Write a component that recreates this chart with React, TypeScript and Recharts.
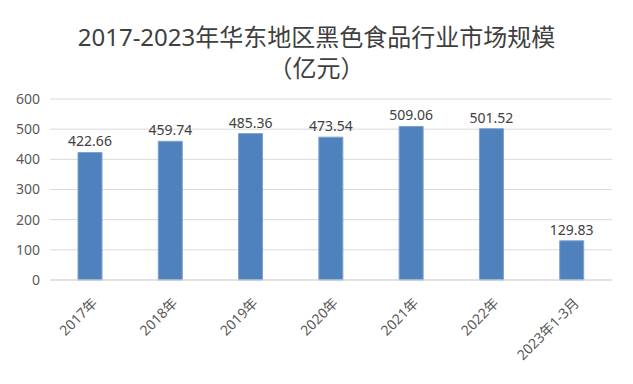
import React from 'react';
import { BarChart, Bar, XAxis, YAxis, CartesianGrid, LabelList } from 'recharts';

const categories = ['2017年', '2018年', '2019年', '2020年', '2021年', '2022年', '2023年1-3月'];
const marketSize = [422.66, 459.74, 485.36, 473.54, 509.06, 501.52, 129.83];
const yTicks = [0, 100, 200, 300, 400, 500, 600];

const data = categories.map((name, i) => ({ name, value: marketSize[i] }));

const FONT = '"Noto Sans", "Noto Sans CJK SC", sans-serif';

function RotatedTick(props: any) {
  const { x, y, payload } = props;
  return (
    <g transform={`translate(${x + 8},${y + 16})`}>
      <text
        textAnchor="end"
        transform="rotate(-45)"
        fill="#595959"
        fontSize={14}
        fontFamily={FONT}
      >
        {payload.value}
      </text>
    </g>
  );
}

export default function App() {
  return (
    <div style={{ margin: -8, width: 633, height: 384, position: 'relative', background: '#fff' }}>
      <div
        style={{
          position: 'absolute',
          left: 3,
          top: 3,
          width: 624,
          height: 375,
          border: '1px solid #d0d0d0',
          boxSizing: 'border-box',
        }}
      />
      <div
        style={{
          position: 'absolute',
          left: 0,
          top: 21,
          width: 633,
          textAlign: 'center',
          fontFamily: FONT,
          fontSize: 24,
          lineHeight: '31px',
          color: '#404040',
        }}
      >
        2017-2023年华东地区黑色食品行业市场规模
        <br />
        （亿元）
      </div>
      <div style={{ position: 'absolute', left: 0, top: 0 }}>
        <BarChart
          width={633}
          height={384}
          data={data}
          margin={{ top: 99, right: 21, left: 0, bottom: 0 }}
        >
          <CartesianGrid vertical={false} stroke="#d9d9d9" />
          <XAxis
            dataKey="name"
            height={104}
            interval={0}
            tickLine={false}
            axisLine={{ stroke: '#d9d9d9' }}
            tick={<RotatedTick />}
          />
          <YAxis
            width={50}
            domain={[0, 600]}
            ticks={yTicks}
            tickLine={false}
            axisLine={false}
            tickMargin={4}
            tick={{ fontSize: 14, fill: '#595959', fontFamily: FONT }}
          />
          <Bar
            dataKey="value"
            fill="#4f81bd"
            stroke="#7da1d0"
            strokeWidth={1}
            barSize={24}
            isAnimationActive={false}
          >
            <LabelList
              dataKey="value"
              position="top"
              offset={6}
              fill="#404040"
              fontSize={14}
              fontFamily={FONT}
              formatter={(v: any) => Number(v).toFixed(2)}
            />
          </Bar>
        </BarChart>
      </div>
    </div>
  );
}
